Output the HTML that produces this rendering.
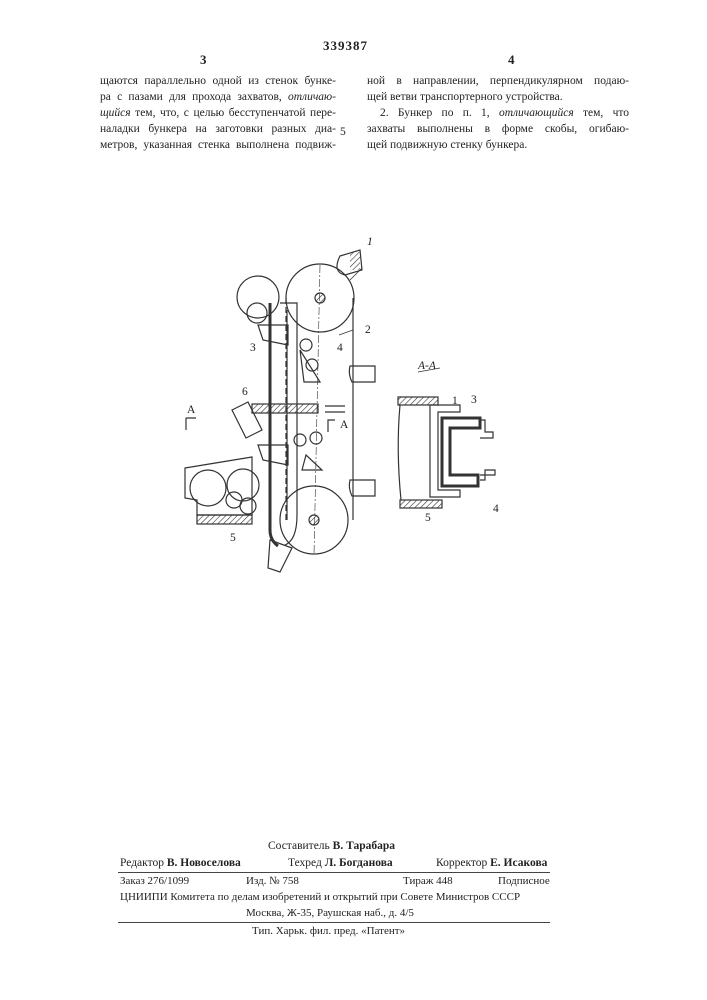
<!DOCTYPE html>
<html><head><meta charset="utf-8"><style>
body{margin:0;background:#fff;}
#p{position:relative;width:707px;height:1000px;background:#fff;overflow:hidden;font-family:"Liberation Serif",serif;color:#222;}
.t{position:absolute;white-space:nowrap;font-size:11.5px;line-height:16px;}
.j{text-align:justify;text-align-last:justify;}
i{font-style:italic;}
</style></head><body><div id="p">
<div class="t" style="left:323px;top:38px;font-size:13px;font-weight:bold;letter-spacing:1px">339387</div>
<div class="t" style="left:200px;top:52px;font-size:13px;font-weight:bold">3</div>
<div class="t" style="left:508px;top:52px;font-size:13px;font-weight:bold">4</div>
<div class="t j" style="left:100px;top:73px;width:236px">щаются параллельно одной из стенок бунке-</div>
<div class="t j" style="left:100px;top:89px;width:236px">ра с пазами для прохода захватов, <i>отличаю-</i></div>
<div class="t j" style="left:100px;top:105px;width:236px"><i>щийся</i> тем, что, с целью бесступенчатой пере-</div>
<div class="t j" style="left:100px;top:121px;width:236px">наладки бункера на заготовки разных диа-</div>
<div class="t j" style="left:100px;top:137px;width:236px">метров, указанная стенка выполнена подвиж-</div>
<div class="t" style="left:340px;top:124px">5</div>
<div class="t j" style="left:367px;top:73px;width:262px">ной в направлении, перпендикулярном подаю-</div>
<div class="t" style="left:367px;top:89px">щей ветви транспортерного устройства.</div>
<div class="t j" style="left:380px;top:105px;width:249px">2. Бункер по п. 1, <i>отличающийся</i> тем, что</div>
<div class="t j" style="left:367px;top:121px;width:262px">захваты выполнены в форме скобы, огибаю-</div>
<div class="t" style="left:367px;top:137px">щей подвижную стенку бункера.</div>

<svg style="position:absolute;left:0;top:0" width="707" height="1000" fill="none" stroke="#333" stroke-width="1.2">
<defs><pattern id="h" width="4" height="4" patternUnits="userSpaceOnUse" patternTransform="rotate(45)"><line x1="0" y1="0" x2="0" y2="4" stroke="#333" stroke-width="1.2"/></pattern></defs>
<circle cx="320" cy="298" r="34"/>
<circle cx="314" cy="520" r="34"/>
<circle cx="320" cy="298" r="5" fill="url(#h)"/>
<circle cx="314" cy="520" r="5" fill="url(#h)"/>
<line x1="353" y1="298" x2="353" y2="520"/>
<line x1="286" y1="298" x2="286" y2="520" stroke-dasharray="6 3"/>
<line x1="320" y1="265" x2="314" y2="555" stroke-dasharray="8 2 2 2" stroke-width=".6"/>
<circle cx="258" cy="297" r="21"/>
<circle cx="257" cy="313" r="10"/>
<path d="M270 303 L270 530 Q270 540 278 546" stroke-width="3"/>
<path d="M280 303 L297 303 L297 515 Q297 540 285 545"/>
<path d="M287 310 L287 520"/>
<rect x="252" y="404" width="66" height="9" fill="url(#h)"/>
<rect x="197" y="515" width="55" height="9" fill="url(#h)"/>
<path d="M185 468 L252 457 L252 515 L197 515 L197 500 L185 498 Z"/>
<circle cx="208" cy="488" r="18"/><circle cx="243" cy="485" r="16"/><circle cx="234" cy="500" r="8"/><circle cx="248" cy="506" r="8"/>
<path d="M340 256 L360 250 L362 270 L345 275 Q332 272 340 256Z"/><rect x="350" y="252" width="10" height="18" fill="url(#h)" stroke="none"/>
<path d="M350 366 L375 366 L375 382 L352 382 Q348 374 350 366Z"/>
<path d="M350 480 L375 480 L375 496 L352 496 Q348 488 350 480Z"/>
<path d="M270 540 L292 548 L280 572 L268 568 Z"/>
<path d="M258 325 L288 325 L288 345 L263 340 Z"/><path d="M258 445 L288 445 L288 465 L263 460 Z"/>
<path d="M232 410 L248 402 L262 430 L246 438 Z"/>
<circle cx="306" cy="345" r="6"/><circle cx="312" cy="365" r="6"/><path d="M300 350 L320 382 L304 382 Z"/>
<circle cx="300" cy="440" r="6"/><circle cx="316" cy="438" r="6"/><path d="M306 455 L322 470 L302 470 Z"/>
<line x1="325" y1="406" x2="345" y2="406"/><line x1="325" y1="412" x2="345" y2="412"/>
<path d="M186 418 L196 418 M186 418 L186 430"/><path d="M335 420 L328 420 L328 432"/>
<line x1="350" y1="280" x2="362" y2="268" stroke-width=".8"/>
<line x1="339" y1="335" x2="353" y2="330" stroke-width=".8"/>
<rect x="398" y="397" width="40" height="8" fill="url(#h)"/>
<rect x="400" y="500" width="42" height="8" fill="url(#h)"/>
<path d="M400 405 Q396 450 401 500"/>
<path d="M460 405 L430 405 L430 497 L460 497 L460 490 L438 490 L438 412 L460 412 Z"/>
<path d="M442 418 L480 418 L480 428 L450 428 L450 475 L478 475 L478 486 L442 486 Z" stroke-width="3"/>
<path d="M480 420 L485 420 L485 432 L493 432 L493 438 L480 438"/><path d="M480 480 L485 480 L485 470 L495 470 L495 475 L480 475"/>
<line x1="418" y1="372" x2="440" y2="368" stroke-width=".8"/>
</svg>
<div class="t" style="left:367px;top:234px;font-style:italic">1</div>
<div class="t" style="left:365px;top:322px">2</div>
<div class="t" style="left:250px;top:340px">3</div>
<div class="t" style="left:337px;top:340px">4</div>
<div class="t" style="left:242px;top:384px">6</div>
<div class="t" style="left:187px;top:402px">A</div>
<div class="t" style="left:340px;top:417px">A</div>
<div class="t" style="left:230px;top:530px">5</div>
<div class="t" style="left:418px;top:358px;font-style:italic">A-A</div>
<div class="t" style="left:452px;top:393px">1</div>
<div class="t" style="left:471px;top:392px">3</div>
<div class="t" style="left:493px;top:501px">4</div>
<div class="t" style="left:425px;top:510px">5</div>

<div class="t" style="left:268px;top:838px">Составитель <b>В. Тарабара</b></div>
<div class="t" style="left:120px;top:855px">Редактор <b>В. Новоселова</b></div>
<div class="t" style="left:288px;top:855px">Техред <b>Л. Богданова</b></div>
<div class="t" style="left:436px;top:855px">Корректор <b>Е. Исакова</b></div>
<div style="position:absolute;left:118px;top:872px;width:432px;border-top:1px solid #444"></div>
<div class="t" style="left:120px;top:873px;font-size:11px">Заказ 276/1099</div>
<div class="t" style="left:246px;top:873px;font-size:11px">Изд. № 758</div>
<div class="t" style="left:403px;top:873px;font-size:11px">Тираж 448</div>
<div class="t" style="left:498px;top:873px;font-size:11px">Подписное</div>
<div class="t" style="left:120px;top:889px;font-size:11px">ЦНИИПИ Комитета по делам изобретений и открытий при Совете Министров СССР</div>
<div class="t" style="left:246px;top:905px;font-size:11px">Москва, Ж-35, Раушская наб., д. 4/5</div>
<div style="position:absolute;left:118px;top:922px;width:432px;border-top:1px solid #444"></div>
<div class="t" style="left:252px;top:923px;font-size:11px">Тип. Харьк. фил. пред. «Патент»</div>
</div></body></html>
